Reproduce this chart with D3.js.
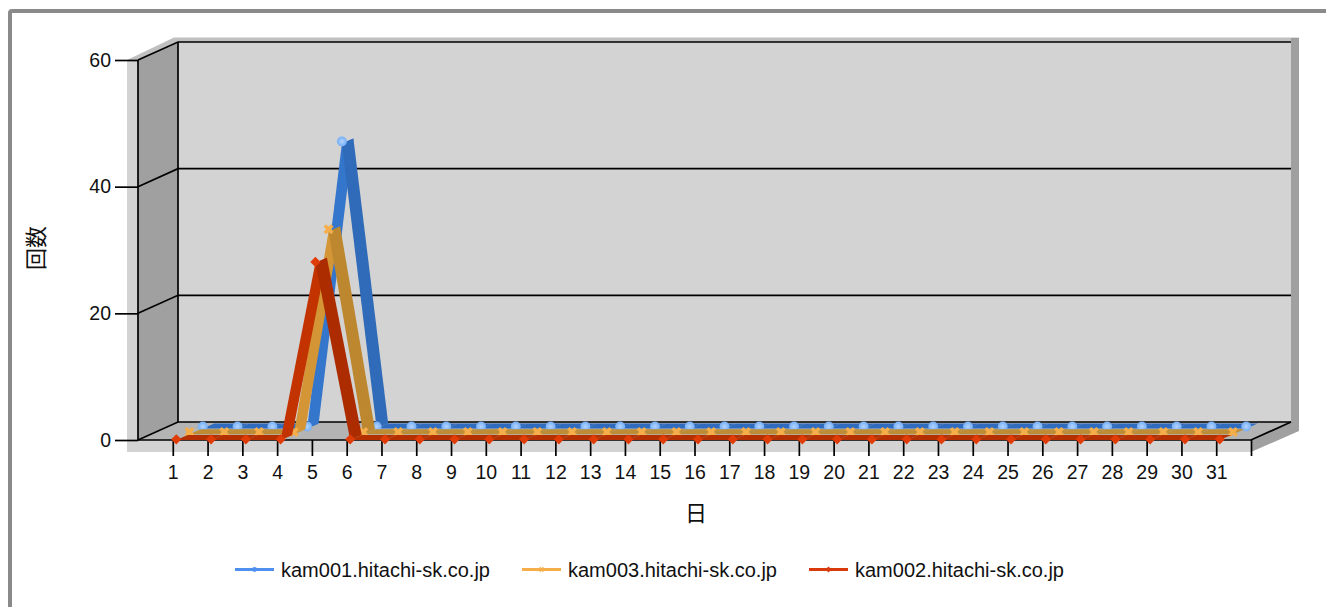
<!DOCTYPE html>
<html>
<head>
<meta charset="utf-8">
<script src="https://cdn.jsdelivr.net/npm/d3@7"></script>
<style>
html, body { margin: 0; padding: 0; background: #fff; overflow: hidden; }
text { font-family: "Liberation Sans", Arial, sans-serif; fill: #111; }
</style>
</head>
<body>
<svg id="chart" width="1326" height="607"></svg>
<script>
const days = d3.range(1, 32);
const yTicks = [0, 20, 40, 60];
const kam001 = [0, 0, 0, 0, 45, 0, 0, 0, 0, 0, 0, 0, 0, 0, 0, 0, 0, 0, 0, 0, 0, 0, 0, 0, 0, 0, 0, 0, 0, 0, 0];
const kam003 = [0, 0, 0, 0, 32, 0, 0, 0, 0, 0, 0, 0, 0, 0, 0, 0, 0, 0, 0, 0, 0, 0, 0, 0, 0, 0, 0, 0, 0, 0, 0];
const kam002 = [0, 0, 0, 0, 28, 0, 0, 0, 0, 0, 0, 0, 0, 0, 0, 0, 0, 0, 0, 0, 0, 0, 0, 0, 0, 0, 0, 0, 0, 0, 0];
const seriesNames = ["kam001.hitachi-sk.co.jp", "kam003.hitachi-sk.co.jp", "kam002.hitachi-sk.co.jp"];

const svg = d3.select("#chart");

const x = d3.scaleLinear().domain([0, 32]).range([138, 1251]);
const y = d3.scaleLinear().domain([0, 60]).range([440, 60]);
const depthX = 40, depthY = -18;
const ribbonX = 11.5, ribbonY = -5;

// Outer frame
svg.append("rect")
    .attr("x", 10).attr("y", 11)
    .attr("width", 1400).attr("height", 700)
    .attr("rx", 2)
    .attr("fill", "#fff")
    .attr("stroke", "#8a8a8a")
    .attr("stroke-width", 4);

const defs = svg.append("defs");
const grad = defs.append("radialGradient").attr("id", "blueDot");
grad.append("stop").attr("offset", "0%").attr("stop-color", "#b4d4ff");
grad.append("stop").attr("offset", "100%").attr("stop-color", "#74aef5");

const poly = (pts, fill) => svg.append("polygon")
    .attr("points", pts.map(p => p.join(",")).join(" "))
    .attr("fill", fill);

const x0 = x.range()[0], x1 = x.range()[1];
const yTop = y(60), yBase = y(0);

// Box around the plot
poly([[127, yTop], [174, 37.5], [1300, 37.5], [1291, 41], [1251, yTop]], "#c0c0c0");
poly([[127, yTop], [x0, yTop], [x0, yBase], [x1, yBase], [x1, 452], [127, 452]], "#d3d3d3");
poly([[x0 + depthX, yTop + depthY], [x1 + depthX, yTop + depthY], [x1 + depthX, yBase + depthY], [x0 + depthX, yBase + depthY]], "#d3d3d3");
poly([[x0, yTop], [x0 + depthX, yTop + depthY], [x0 + depthX, yBase + depthY], [x0, yBase]], "#a0a0a0");
poly([[x0, yBase], [x0 + depthX, yBase + depthY], [x1 + depthX, yBase + depthY], [x1, yBase]], "#b4b4b4");
poly([[x1 + depthX, 38], [1299, 38], [1299, 431], [x1, 452], [x1, yBase], [x1 + depthX, yBase + depthY]], "#a0a0a0");

// Grid lines on the walls
const grid = svg.append("g").attr("stroke", "#000").attr("stroke-width", 1.7).attr("fill", "none");
yTicks.forEach(t => {
    const p = `M${x0},${y(t)}L${x0 + depthX},${y(t) + depthY}L${x1 + depthX},${y(t) + depthY}`;
    grid.append("path").attr("d", p);
});
grid.append("path").attr("d", `M${x0},${yTop}V${yBase}H${x1}L${x1 + depthX},${yBase + depthY}`);
grid.append("path").attr("d", `M${x0 + depthX},${yTop + depthY}V${yBase + depthY}`);

// Axes
const yAxis = svg.append("g")
    .attr("transform", `translate(${x0},0)`)
    .call(d3.axisLeft(y).tickValues(yTicks).tickSize(23).tickPadding(4));
const xAxis = svg.append("g")
    .attr("transform", `translate(0,${yBase})`)
    .call(d3.axisBottom(x).tickValues(d3.range(1, 33)).tickSize(16)
        .tickFormat(d => d <= days.length ? days[d - 1] : "").tickPadding(9));
[yAxis, xAxis].forEach(a => {
    a.select(".domain").remove();
    a.selectAll(".tick line").attr("stroke", "#000").attr("stroke-width", 1.7);
    a.selectAll(".tick text").attr("font-size", 19.5).attr("fill", "#111")
        .attr("font-family", "'Liberation Sans', Arial, sans-serif");
});

svg.append("text").text("日")
    .attr("x", 696).attr("y", 521)
    .attr("text-anchor", "middle")
    .attr("font-size", 22)
    .style("font-family", "'Noto Sans CJK JP'");
svg.append("text").text("回数")
    .attr("transform", "translate(44,248) rotate(-90)")
    .attr("text-anchor", "middle")
    .attr("font-size", 22)
    .style("font-family", "'Noto Sans CJK JP'");

// Series, back to front. drop = how far the ribbon's front edge sits below the marker
const series = [
    {values: kam001, ox: 30, oy: -13.5, drop: 2, rise: "#3376cc", fall: "#2f6bb8", flat: "#2f6cc0", marker: "url(#blueDot)", symbol: d3.symbolCircle, size: 78, rot: 0},
    {values: kam003, ox: 16.7, oy: -8, drop: 2.2, rise: "#d39535", fall: "#bd8730", flat: "#bd8c35", marker: "#f5ae4a", symbol: d3.symbolCross, size: 62, rot: 45},
    {values: kam002, ox: 3.5, oy: -0.7, drop: 0.7, rise: "#c23300", fall: "#ac2c00", flat: "#b53000", marker: "#e03c08", symbol: d3.symbolSquare, size: 52, rot: 45}
];

series.forEach(s => {
    const g = svg.append("g");
    const pts = s.values.map((v, i) => [x(days[i]) + s.ox, y(v) + s.oy, v]);
    const segs = d3.pairs(pts);
    g.selectAll("polygon")
        .data(segs)
        .enter()
        .append("polygon")
        .attr("points", d => [
            [d[0][0], d[0][1] + s.drop],
            [d[1][0], d[1][1] + s.drop],
            [d[1][0] + ribbonX, d[1][1] + s.drop + ribbonY],
            [d[0][0] + ribbonX, d[0][1] + s.drop + ribbonY]
        ].map(p => p.join(",")).join(" "))
        .attr("fill", d => d[1][2] > d[0][2] ? s.rise : d[1][2] < d[0][2] ? s.fall : s.flat);
    g.selectAll("path")
        .data(pts)
        .enter()
        .append("path")
        .attr("d", d3.symbol().type(s.symbol).size(s.size))
        .attr("transform", d => `translate(${d[0]},${d[1]}) rotate(${s.rot})`)
        .attr("fill", s.marker);
});

// Legend
const legendX = [235, 522, 809];
const legendColors = ["#4f8fef", "#f5ae4a", "#d93a0c"];
const legendSymbols = [d3.symbolCircle, d3.symbolCross, d3.symbolSquare];
const legend = svg.selectAll(".legend")
    .data(seriesNames)
    .enter()
    .append("g")
    .attr("class", "legend")
    .attr("transform", (d, i) => `translate(${legendX[i]},569.5)`);
legend.append("line")
    .attr("x2", 39)
    .attr("stroke", (d, i) => legendColors[i])
    .attr("stroke-width", 3);
legend.append("path")
    .attr("d", (d, i) => d3.symbol().type(legendSymbols[i]).size(18)())
    .attr("transform", (d, i) => `translate(19.5,0) rotate(${i ? 45 : 0})`)
    .attr("fill", (d, i) => legendColors[i]);
legend.append("text")
    .attr("x", 46)
    .attr("y", 7)
    .attr("font-size", 20)
    .text(d => d);
</script>
</body>
</html>
